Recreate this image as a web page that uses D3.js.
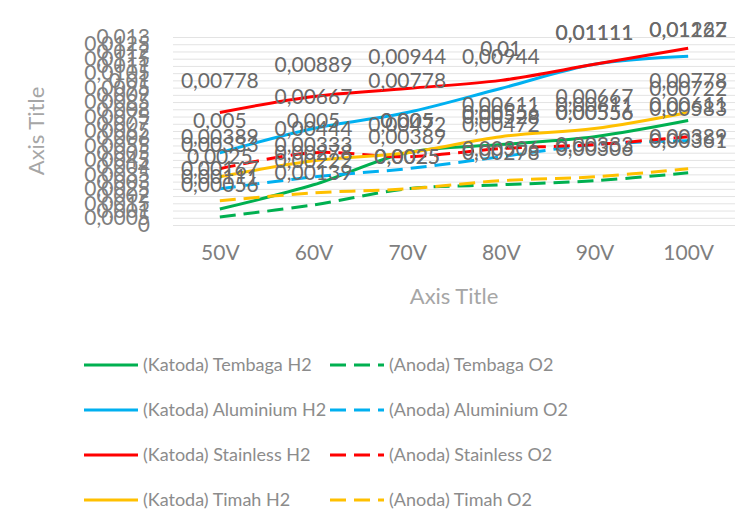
<!DOCTYPE html>
<html lang="en">
<head>
    <meta charset="UTF-8">
    <title>Axis Title</title>
    <style>
        body { margin: 0; background: #fff; }
        svg text { font-family: Lato, "Open Sans", sans-serif; }
    </style>
</head>
<body>
    <div id="chart"></div>
    <script src="https://d3js.org/d3.v7.min.js"></script>
    <script>
        // categories and values
        const categories = ["50V", "60V", "70V", "80V", "90V", "100V"];
        const tembagaH2   = [0.00111, 0.00278, 0.005,   0.00556, 0.00611, 0.00722];
        const tembagaO2   = [0.00056, 0.00139, 0.0025,  0.00278, 0.00306, 0.00361];
        const aluminiumH2 = [0.005,   0.00667, 0.00778, 0.00944, 0.01111, 0.01167];
        const aluminiumO2 = [0.0025,  0.00333, 0.00389, 0.00472, 0.00556, 0.00583];
        const stainlessH2 = [0.00778, 0.00889, 0.00944, 0.01,    0.01111, 0.01222];
        const stainlessO2 = [0.00389, 0.005,   0.00472, 0.00528, 0.00556, 0.00611];
        const timahH2     = [0.00333, 0.00444, 0.005,   0.00611, 0.00667, 0.00778];
        const timahO2     = [0.00167, 0.00222, 0.0025,  0.00306, 0.00333, 0.00389];
        const seriesNames = [
            "(Katoda) Tembaga H2", "(Anoda) Tembaga O2",
            "(Katoda) Aluminium H2", "(Anoda) Aluminium O2",
            "(Katoda) Stainless H2", "(Anoda) Stainless O2",
            "(Katoda) Timah H2", "(Anoda) Timah O2"
        ];
        const yTicks = [0, 0.0005, 0.001, 0.0015, 0.002, 0.0025, 0.003, 0.0035, 0.004, 0.0045,
            0.005, 0.0055, 0.006, 0.0065, 0.007, 0.0075, 0.008, 0.0085, 0.009, 0.0095,
            0.01, 0.0105, 0.011, 0.0115, 0.012, 0.0125, 0.013];

        const colors = ["#00B050", "#00B050", "#00B0F0", "#00B0F0", "#FF0000", "#FF0000", "#FFC000", "#FFC000"];
        const series = [tembagaH2, tembagaO2, aluminiumH2, aluminiumO2, stainlessH2, stainlessO2, timahH2, timahO2]
            .map((values, i) => ({name: seriesNames[i], values: values, color: colors[i], dashed: i % 2 === 1}));

        const fmt = v => String(v).replace(".", ",");

        const svg = d3.select("#chart")
            .append("svg")
            .attr("width", 749)
            .attr("height", 511);

        const x = d3.scalePoint().domain(categories).range([173, 735]).padding(0.5);
        const y = d3.scaleLinear().domain([0, 0.013]).range([225, 37]);

        // gridlines
        svg.append("g")
            .attr("transform", "translate(173,0)")
            .call(d3.axisLeft(y).tickValues(yTicks).tickSize(-562).tickFormat(""))
            .call(g => g.select(".domain").remove())
            .call(g => g.selectAll("line").attr("stroke", "#e3e3e3").attr("stroke-width", 1));

        // y axis labels
        svg.append("g")
            .attr("transform", "translate(173,0)")
            .call(d3.axisLeft(y).tickValues(yTicks).tickSize(0).tickPadding(23).tickFormat(fmt))
            .call(g => g.select(".domain").remove())
            .call(g => g.selectAll("text")
                .attr("fill", "#7f7f7f")
                .style("font-size", "21px"));

        // x axis labels
        svg.append("g")
            .attr("transform", "translate(0,225)")
            .call(d3.axisBottom(x).tickSize(0).tickPadding(20))
            .call(g => g.select(".domain").remove())
            .call(g => g.selectAll("text")
                .attr("fill", "#7f7f7f")
                .style("font-size", "21px"));

        // axis titles
        svg.append("text")
            .attr("x", 454).attr("y", 304)
            .attr("text-anchor", "middle")
            .attr("fill", "#a6a6a6")
            .style("font-size", "22px")
            .text("Axis Title");

        svg.append("text")
            .attr("transform", "translate(44,131) rotate(-90)")
            .attr("text-anchor", "middle")
            .attr("fill", "#a6a6a6")
            .style("font-size", "22px")
            .text("Axis Title");

        const line = d3.line()
            .x((d, i) => x(categories[i]))
            .y(d => y(d))
            .curve(d3.curveCatmullRom.alpha(0.5));

        svg.append("g")
            .selectAll("path")
            .data(series)
            .enter()
            .append("path")
            .attr("d", d => line(d.values))
            .attr("fill", "none")
            .attr("stroke", d => d.color)
            .attr("stroke-width", 3)
            .attr("stroke-dasharray", d => d.dashed ? "16,8" : null);

        // data labels on top, kept inside the chart area like excel does
        const labels = svg.append("g");
        series.forEach(s => {
            labels.selectAll(null)
                .data(s.values)
                .enter()
                .append("text")
                .attr("x", (d, i) => x(categories[i]))
                .attr("y", d => Math.max(y(d) - 32, 30))
                .attr("dy", "0.35em")
                .attr("text-anchor", "middle")
                .attr("fill", "#6a6a6a")
                .style("font-size", "21px")
                .text(fmt);
        });

        // legend, two columns
        const legend = svg.append("g")
            .selectAll("g")
            .data(series)
            .enter()
            .append("g")
            .attr("transform", (d, i) => `translate(${i % 2 === 0 ? 84 : 330},${365 + Math.floor(i / 2) * 45})`);

        legend.append("line")
            .attr("x1", 0).attr("x2", 54)
            .attr("stroke", d => d.color)
            .attr("stroke-width", 3)
            .attr("stroke-dasharray", d => d.dashed ? "16,8" : null);

        legend.append("text")
            .attr("x", 59)
            .attr("dy", "0.35em")
            .attr("fill", "#8c8c8c")
            .style("font-size", "18px")
            .text(d => d.name);
    </script>
</body>
</html>
